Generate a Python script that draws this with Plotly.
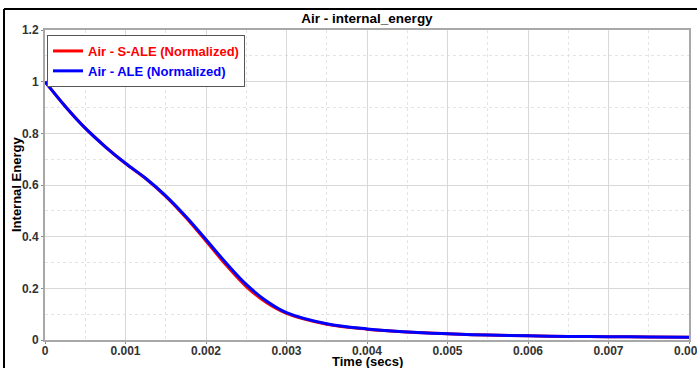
import plotly.graph_objects as go

# Data
time_s = [0, 0.00025, 0.0005, 0.00075, 0.001, 0.00125, 0.0015, 0.00175, 0.002,
          0.00225, 0.0025, 0.00275, 0.003, 0.0035, 0.004, 0.0045, 0.005, 0.0055,
          0.006, 0.0065, 0.007, 0.0075, 0.008]
s_ale = [1.0, 0.905, 0.82, 0.748, 0.683, 0.625, 0.556, 0.474, 0.383,
         0.29, 0.207, 0.145, 0.103, 0.061, 0.042, 0.031, 0.024, 0.019,
         0.016, 0.014, 0.013, 0.012, 0.011]
ale = [1.0, 0.905, 0.82, 0.748, 0.684, 0.626, 0.558, 0.478, 0.389,
       0.298, 0.215, 0.151, 0.106, 0.063, 0.043, 0.031, 0.024, 0.019,
       0.016, 0.014, 0.013, 0.012, 0.011]
x_ticks = [0, 0.001, 0.002, 0.003, 0.004, 0.005, 0.006, 0.007, 0.008]
x_labels = ["0", "0.001", "0.002", "0.003", "0.004", "0.005", "0.006", "0.007", "0.008"]
y_ticks = [0, 0.2, 0.4, 0.6, 0.8, 1.0, 1.2]
y_labels = ["0", "0.2", "0.4", "0.6", "0.8", "1", "1.2"]

W, H = 697, 368
ML, MR, MT, MB = 45, 8, 30, 28
PW, PH = W - ML - MR, H - MT - MB
FONT = "Liberation Sans, Arial, sans-serif"
BOLD13 = dict(family=FONT, size=13, color="black", weight="bold")

fig = go.Figure()
fig.add_trace(go.Scatter(x=time_s, y=s_ale, mode="lines", name="Air - S-ALE (Normalized)",
                         line=dict(color="#ff0000", width=3, shape="spline")))
fig.add_trace(go.Scatter(x=time_s, y=ale, mode="lines", name="Air - ALE (Normalized)",
                         line=dict(color="#0000ff", width=3, shape="spline")))

axis_common = dict(
    showline=True, linecolor="#a8a8a8", linewidth=2, mirror=True,
    showgrid=True, gridcolor="#d8d8d8", gridwidth=1,
    ticks="outside", ticklen=2, tickcolor="#888888",
    tickfont=dict(family=FONT, size=12, color="#333333", weight="bold"),
    ticklabeloverflow="allow",
    zeroline=False, automargin=False,
)

fig.update_layout(
    width=W, height=H,
    margin=dict(l=ML, r=MR, t=MT, b=MB),
    paper_bgcolor="white", plot_bgcolor="white",
    title=dict(text="Air - internal_energy", x=(ML + PW / 2) / W, xanchor="center",
               y=1 - 18 / H, yanchor="middle",
               font=dict(family=FONT, size=13.5, color="black", weight="bold")),
    xaxis=dict(range=[0, 0.008], tickvals=x_ticks, ticktext=x_labels,
               ticklabelstandoff=-3,
               minor=dict(dtick=0.0005, showgrid=True, gridcolor="#e4e4e4", griddash="dot", ticks=""),
               **axis_common),
    yaxis=dict(range=[0, 1.2], tickvals=y_ticks, ticktext=y_labels,
               minor=dict(dtick=0.1, showgrid=True, gridcolor="#e4e4e4", griddash="dot", ticks=""),
               **axis_common),
    legend=dict(x=2 / PW, y=1 - 5 / PH, xanchor="left", yanchor="top",
                bgcolor="white", bordercolor="#555555", borderwidth=1,
                font=dict(family=FONT, size=13, weight="bold"),
                tracegroupgap=0, itemwidth=30),
    showlegend=True,
)

# axis titles placed precisely
fig.add_annotation(text="Time (secs)", xref="paper", yref="paper", x=0.5, y=-(361.5 - (MT + PH)) / PH,
                   xanchor="center", yanchor="middle", showarrow=False, font=BOLD13)
fig.add_annotation(text="Internal Energy", xref="paper", yref="paper", x=(16 - ML) / PW, y=0.5,
                   xanchor="center", yanchor="middle", textangle=-90, showarrow=False, font=BOLD13)

# outer black frame (left and top edges visible)
fig.add_shape(type="line", xref="paper", yref="paper",
              x0=(4 - ML) / PW, x1=(4 - ML) / PW, y0=-MB / PH - 0.1, y1=1 + (MT - 9) / PH,
              line=dict(color="black", width=2))
fig.add_shape(type="line", xref="paper", yref="paper",
              x0=(4 - ML) / PW, x1=1 + (MR + 10) / PW, y0=1 + (MT - 9) / PH, y1=1 + (MT - 9) / PH,
              line=dict(color="black", width=2))

fig.write_html("out.html")

# post-process: colour legend labels to match the series
html = open("out.html").read()
css = ("<style>"
       ".traces:nth-child(1) .legendtext{fill:#ff0000 !important;}"
       ".traces:nth-child(2) .legendtext{fill:#0000ff !important;}</style>")
html = html.replace("<head>", "<head>" + css, 1)
open("out.html", "w").write(html)
